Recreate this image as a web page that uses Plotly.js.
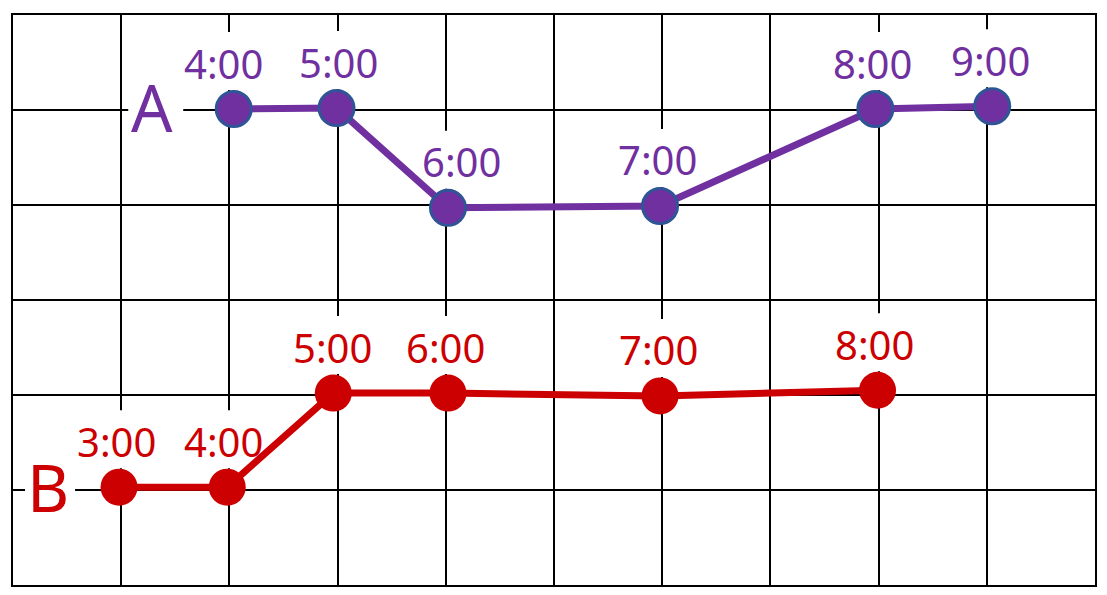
<!DOCTYPE html>
<html>
<head>
<meta charset="utf-8">
<script src="https://cdn.plot.ly/plotly-3.0.1.min.js"></script>
<style>html,body{margin:0;padding:0;background:#fff;}#chart{width:1107px;height:595px;}</style>
</head>
<body>
<div id="chart"></div>
<script>
// ---- data ----
const seriesNames = ['A', 'B'];
const aX = [2.04, 2.99, 4.02, 5.98, 7.97, 9.05];
const aY = [5.01, 5.02, 3.97, 3.99, 5.01, 5.04];
const aLabels = ['4:00', '5:00', '6:00', '7:00', '8:00', '9:00'];
const bX = [0.98, 1.98, 2.96, 4.02, 5.98, 7.99];
const bY = [1.03, 1.03, 2.02, 2.02, 1.99, 2.05];
const bLabels = ['3:00', '4:00', '5:00', '6:00', '7:00', '8:00'];

// ---- style ----
const purple = '#7030A0', outline = '#2F5597', red = '#CC0000';
const FONT = 'Noto Sans, Open Sans, sans-serif';
const aLabelDx = [-10, 1.5, 14, -3, -2.5, -2];
const bLabelDx = [-2.5, -3.5, -1, -2.5, -1.5, -3.5];
const LABEL_DY = 46;

const traces = [
  {x: aX, y: aY, mode: 'lines+markers', name: seriesNames[0],
   line: {color: purple, width: 7},
   marker: {size: 35, color: purple, line: {color: outline, width: 3}}},
  {x: bX, y: bY, mode: 'lines+markers', name: seriesNames[1],
   line: {color: red, width: 7},
   marker: {size: 37, color: red, line: {width: 0}}}
];

const annotations = [];
const shapes = [];
function addLabels(xs, ys, labels, dxs, color) {
  labels.forEach((t, i) => {
    annotations.push({x: xs[i], y: ys[i], xref: 'x', yref: 'y', text: t, showarrow: false,
      xanchor: 'center', yanchor: 'middle', xshift: dxs[i], yshift: LABEL_DY,
      font: {family: FONT, size: 40, color: color}});
    shapes.push({type: 'rect', layer: 'between', xref: 'x', yref: 'y',
      xsizemode: 'pixel', ysizemode: 'pixel', xanchor: xs[i], yanchor: ys[i],
      x0: dxs[i] - 44, x1: dxs[i] + 44, y0: LABEL_DY - 27, y1: LABEL_DY + 31,
      fillcolor: '#ffffff', line: {width: 0}});
  });
}
addLabels(aX, aY, aLabels, aLabelDx, purple);
addLabels(bX, bY, bLabels, bLabelDx, red);

// series name letters
annotations.push({x: aX[0], y: aY[0], xref: 'x', yref: 'y', text: seriesNames[0], showarrow: false,
  xanchor: 'center', yanchor: 'middle', xshift: -81.5, yshift: 2,
  font: {family: FONT, size: 65, color: purple}});
shapes.push({type: 'rect', layer: 'between', xref: 'x', yref: 'y', xsizemode: 'pixel', ysizemode: 'pixel',
  xanchor: aX[0], yanchor: aY[0], x0: -105.5, x1: -50.5, y0: -28, y1: 30,
  fillcolor: '#ffffff', line: {width: 0}});
annotations.push({x: bX[0], y: bY[0], xref: 'x', yref: 'y', text: seriesNames[1], showarrow: false,
  xanchor: 'center', yanchor: 'middle', xshift: -71.5, yshift: 0,
  font: {family: FONT, size: 65, color: red}});
shapes.push({type: 'rect', layer: 'between', xref: 'x', yref: 'y', xsizemode: 'pixel', ysizemode: 'pixel',
  xanchor: bX[0], yanchor: bY[0], x0: -94, x1: -44, y0: -30, y1: 30,
  fillcolor: '#ffffff', line: {width: 0}});

const axisCommon = {showgrid: true, gridcolor: '#000', gridwidth: 2, dtick: 1, tick0: 0,
  showline: true, mirror: true, linecolor: '#000', linewidth: 2, zeroline: false,
  showticklabels: false, ticks: '', fixedrange: true};

const layout = {
  width: 1107, height: 595,
  margin: {l: 13, r: 12, t: 15, b: 10, pad: 0},
  paper_bgcolor: '#fff', plot_bgcolor: '#fff',
  showlegend: false,
  xaxis: Object.assign({range: [0, 10]}, axisCommon),
  yaxis: Object.assign({range: [0, 6]}, axisCommon),
  annotations: annotations,
  shapes: shapes
};

Plotly.newPlot('chart', traces, layout, {staticPlot: true});
</script>
</body>
</html>
